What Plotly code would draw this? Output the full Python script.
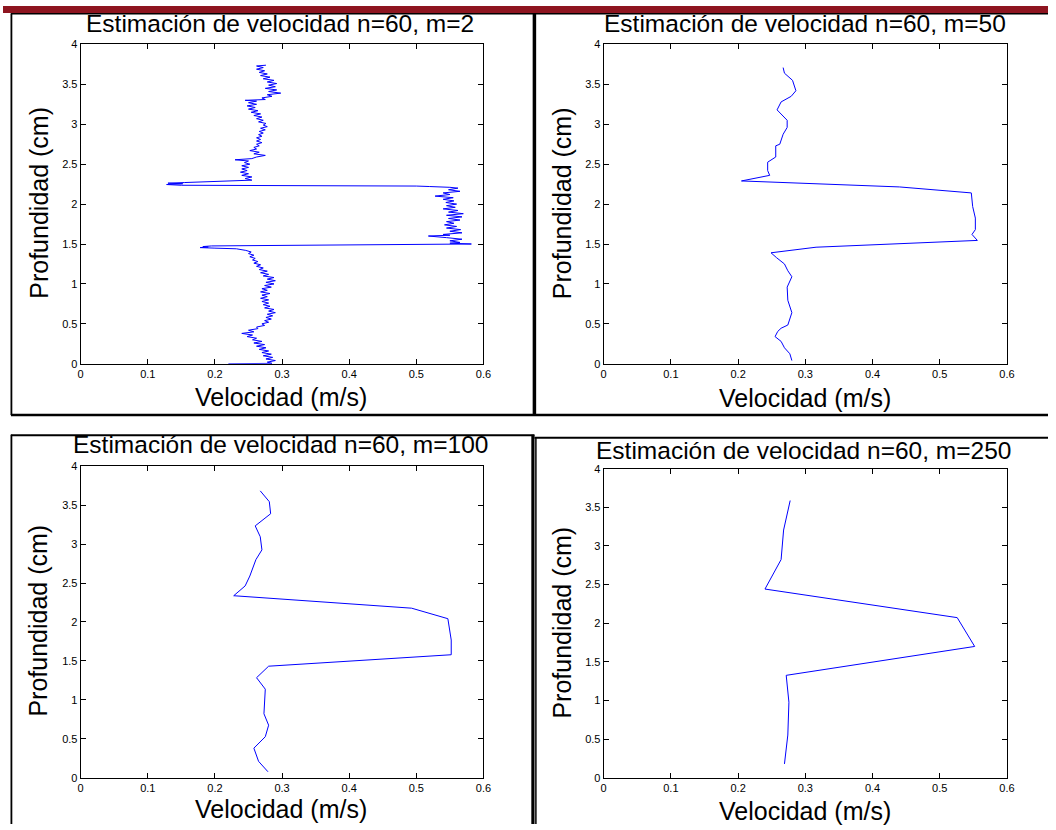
import plotly.graph_objects as go

W, H = 1056, 830

# ---------------- data (depth in cm, velocity in m/s) ----------------
m2_profile = [
    (0.00, 0.220), (0.005, 0.285),
    (0.02, 0.278), (0.04, 0.290), (0.06, 0.276), (0.08, 0.286), (0.10, 0.272),
    (0.12, 0.284), (0.14, 0.270), (0.16, 0.280), (0.18, 0.266), (0.20, 0.276),
    (0.22, 0.262), (0.24, 0.274), (0.26, 0.258), (0.28, 0.270), (0.30, 0.256),
    (0.32, 0.262), (0.34, 0.248), (0.36, 0.256), (0.38, 0.240), (0.40, 0.258),
    (0.42, 0.250), (0.44, 0.264), (0.46, 0.262), (0.48, 0.274), (0.50, 0.270),
    (0.52, 0.280), (0.54, 0.274), (0.56, 0.284), (0.58, 0.276), (0.60, 0.286),
    (0.62, 0.278), (0.64, 0.290), (0.66, 0.280), (0.68, 0.288), (0.70, 0.274),
    (0.72, 0.282), (0.74, 0.272), (0.76, 0.280), (0.78, 0.270), (0.80, 0.280),
    (0.82, 0.268), (0.84, 0.278), (0.86, 0.270), (0.88, 0.282), (0.90, 0.268),
    (0.92, 0.278), (0.94, 0.270), (0.96, 0.284), (0.98, 0.274), (1.00, 0.288),
    (1.02, 0.276), (1.04, 0.290), (1.06, 0.278), (1.08, 0.288), (1.10, 0.272),
    (1.12, 0.280), (1.14, 0.268), (1.16, 0.278), (1.18, 0.266), (1.20, 0.272),
    (1.22, 0.262), (1.24, 0.268), (1.26, 0.258), (1.28, 0.264), (1.30, 0.256),
    (1.32, 0.260), (1.34, 0.252), (1.36, 0.258), (1.38, 0.250), (1.40, 0.254),
    (1.42, 0.246), (1.43, 0.240), (1.44, 0.232), (1.448, 0.200), (1.455, 0.178),
    (1.462, 0.190), (1.468, 0.182), (1.476, 0.195), (1.496, 0.520), (1.50, 0.582),
    (1.51, 0.550), (1.52, 0.565), (1.54, 0.550), (1.56, 0.568), (1.58, 0.545),
    (1.60, 0.518), (1.61, 0.550), (1.62, 0.540), (1.64, 0.568), (1.66, 0.550),
    (1.68, 0.566), (1.70, 0.545), (1.72, 0.560), (1.74, 0.542), (1.76, 0.556),
    (1.78, 0.545), (1.80, 0.565), (1.82, 0.548), (1.84, 0.568), (1.86, 0.545),
    (1.88, 0.570), (1.90, 0.548), (1.92, 0.562), (1.94, 0.540), (1.96, 0.558),
    (1.98, 0.545), (2.00, 0.560), (2.02, 0.544), (2.04, 0.556), (2.06, 0.540),
    (2.08, 0.555), (2.10, 0.528), (2.12, 0.550), (2.14, 0.540), (2.16, 0.565),
    (2.18, 0.548), (2.20, 0.562), (2.21, 0.550), (2.22, 0.520), (2.226, 0.500),
    (2.236, 0.150), (2.245, 0.128), (2.255, 0.152), (2.262, 0.130), (2.27, 0.155),
    (2.285, 0.200), (2.295, 0.240), (2.30, 0.255), (2.32, 0.245), (2.34, 0.255),
    (2.36, 0.240), (2.38, 0.250), (2.40, 0.238), (2.42, 0.248), (2.44, 0.240),
    (2.46, 0.250), (2.48, 0.240), (2.50, 0.252), (2.52, 0.244), (2.54, 0.250),
    (2.555, 0.230), (2.57, 0.255), (2.59, 0.262), (2.61, 0.275), (2.63, 0.258),
    (2.65, 0.266), (2.67, 0.252), (2.69, 0.262), (2.71, 0.258), (2.73, 0.266),
    (2.75, 0.262), (2.77, 0.270), (2.79, 0.262), (2.81, 0.268), (2.83, 0.262),
    (2.85, 0.270), (2.87, 0.265), (2.89, 0.272), (2.91, 0.266), (2.93, 0.275),
    (2.95, 0.268), (2.97, 0.278), (2.99, 0.272), (3.01, 0.276), (3.03, 0.265),
    (3.05, 0.272), (3.07, 0.262), (3.09, 0.270), (3.11, 0.258), (3.13, 0.268),
    (3.15, 0.254), (3.17, 0.264), (3.19, 0.250), (3.21, 0.260), (3.23, 0.248),
    (3.25, 0.262), (3.27, 0.250), (3.29, 0.262), (3.30, 0.245), (3.31, 0.275),
    (3.33, 0.270), (3.35, 0.285), (3.37, 0.278), (3.39, 0.298), (3.41, 0.280),
    (3.43, 0.292), (3.45, 0.275), (3.47, 0.290), (3.49, 0.280), (3.51, 0.292),
    (3.53, 0.278), (3.55, 0.288), (3.57, 0.272), (3.59, 0.282), (3.61, 0.268),
    (3.63, 0.278), (3.65, 0.266), (3.67, 0.274), (3.69, 0.262), (3.71, 0.272),
    (3.73, 0.262), (3.74, 0.276),
]
depth_m2 = [d for d, v in m2_profile]
vel_m2 = [v for d, v in m2_profile]

depth_m50 = [3.71, 3.64, 3.55, 3.42, 3.35, 3.28, 3.18, 3.10, 3.05, 2.96,
             2.875, 2.75, 2.73, 2.59, 2.57, 2.525, 2.42, 2.36, 2.29, 2.215,
             2.14, 1.97, 1.825, 1.68, 1.62, 1.545, 1.46, 1.39, 1.33, 1.25,
             1.165, 1.09, 0.96, 0.795, 0.64, 0.485, 0.445, 0.405, 0.34, 0.28,
             0.20, 0.125, 0.04]
vel_m50 = [0.267, 0.269, 0.281, 0.286, 0.279, 0.264, 0.258, 0.267, 0.273, 0.273,
           0.267, 0.262, 0.256, 0.256, 0.252, 0.244, 0.244, 0.247, 0.205, 0.440,
           0.547, 0.549, 0.553, 0.553, 0.548, 0.556, 0.316, 0.249, 0.257, 0.269,
           0.274, 0.280, 0.273, 0.274, 0.280, 0.274, 0.264, 0.259, 0.255, 0.264,
           0.269, 0.277, 0.280]

depth_m100 = [3.684, 3.545, 3.39, 3.234, 3.095, 2.926, 2.80, 2.695, 2.59, 2.463,
              2.337, 2.177, 2.042, 1.768, 1.579, 1.432, 1.284, 1.137, 0.821, 0.674,
              0.526, 0.379, 0.21, 0.076]
vel_m100 = [0.2675, 0.281, 0.283, 0.260, 0.2675, 0.270, 0.261, 0.257, 0.252, 0.245,
            0.228, 0.493, 0.547, 0.552, 0.552, 0.280, 0.262, 0.275, 0.273, 0.280,
            0.275, 0.258, 0.265, 0.279]

depth_m250 = [3.588, 3.206, 2.824, 2.442, 2.072, 1.699, 1.325, 0.977, 0.552, 0.178]
vel_m250 = [0.2775, 0.2677, 0.264, 0.240, 0.526, 0.552, 0.2716, 0.2756, 0.274, 0.269]

titles = ["Estimación de velocidad n=60, m=2",
          "Estimación de velocidad n=60, m=50",
          "Estimación de velocidad n=60, m=100",
          "Estimación de velocidad n=60, m=250"]
x_ticks = [0, 0.1, 0.2, 0.3, 0.4, 0.5, 0.6]
x_ticklabels = ["0", "0.1", "0.2", "0.3", "0.4", "0.5", "0.6"]
y_ticks = [0, 0.5, 1, 1.5, 2, 2.5, 3, 3.5, 4]
y_ticklabels = ["0", "0.5", "1", "1.5", "2", "2.5", "3", "3.5", "4"]
x_title = "Velocidad (m/s)"
y_title = "Profundidad (cm)"

# ---------------- layout helpers ----------------
FONT = "Liberation Sans, Arial, sans-serif"


def px(x):
    return x / W


def py(y):
    return 1 - y / H


# plot areas in pixels: (left, right, top, bottom)
areas = [(78.5, 485.5, 39, 363), (607, 1014.5, 39, 363),
         (78.5, 485.5, 467, 783), (607, 1014.5, 469.5, 783)]
series = [(vel_m2, depth_m2), (vel_m50, depth_m50),
          (vel_m100, depth_m100), (vel_m250, depth_m250)]
title_pos = [(280, 18), (810, 18), (280, 445), (809, 451)]
xtitle_pos = [(280.5, 397), (810, 398), (280.5, 815), (810, 816.5)]
ytitle_pos = [(36, 200), (565, 200), (35.5, 623.5), (565, 625.5)]

fig = go.Figure()
layout = dict(width=W, height=H, margin=dict(l=0, r=0, t=0, b=0),
              paper_bgcolor="white", plot_bgcolor="white", showlegend=False,
              font=dict(family=FONT, color="black"))
annotations = []
for i, ((l, r, t, b), (xv, yv)) in enumerate(zip(areas, series)):
    n = "" if i == 0 else str(i + 1)
    fig.add_trace(go.Scatter(x=xv, y=yv, mode="lines",
                             line=dict(color="#0000FF", width=1),
                             xaxis="x" + n, yaxis="y" + n, hoverinfo="skip"))
    common = dict(ticks="inside", ticklen=5, tickwidth=1, tickcolor="black",
                  mirror="ticks", showline=True, linecolor="black", linewidth=1,
                  showgrid=False, zeroline=False, fixedrange=True,
                  tickfont=dict(family=FONT, size=11, color="black"))
    layout["xaxis" + n] = dict(domain=[px(l), px(r)], anchor="y" + n,
                               range=[0, 0.6], tickmode="array",
                               tickvals=x_ticks, ticktext=x_ticklabels, **common)
    layout["yaxis" + n] = dict(domain=[py(b), py(t)], anchor="x" + n,
                               range=[0, 4], tickmode="array",
                               tickvals=y_ticks, ticktext=y_ticklabels, **common)
    tx, ty = title_pos[i]
    annotations.append(dict(text=titles[i], x=px(tx), y=py(ty), xref="paper",
                            yref="paper", showarrow=False, xanchor="center",
                            yanchor="middle", font=dict(size=24.5, family=FONT)))
    ax_, ay_ = xtitle_pos[i]
    annotations.append(dict(text=x_title, x=px(ax_), y=py(ay_), xref="paper",
                            yref="paper", showarrow=False, xanchor="center",
                            yanchor="middle", font=dict(size=25, family=FONT)))
    yx, yy = ytitle_pos[i]
    annotations.append(dict(text=y_title, x=px(yx), y=py(yy), xref="paper",
                            yref="paper", showarrow=False, xanchor="center",
                            yanchor="middle", textangle=-90,
                            font=dict(size=25, family=FONT)))
layout["annotations"] = annotations


def hline(x0, x1, y, w):
    return dict(type="line", xref="paper", yref="paper", x0=px(x0), x1=px(x1),
                y0=py(y), y1=py(y), line=dict(color="black", width=w))


def vline(x, y0, y1, w):
    return dict(type="line", xref="paper", yref="paper", x0=px(x), x1=px(x),
                y0=py(y0), y1=py(y1), line=dict(color="black", width=w))


shapes = [
    dict(type="rect", xref="paper", yref="paper", x0=0, x1=1, y0=py(7), y1=1,
         fillcolor="#8E1520", line=dict(width=0)),
    hline(8, 1056, 7.8, 1.6),
    vline(8.5, 7.5, 415, 1.8),
    vline(537, 7.5, 415, 3.5),
    hline(8, 1056, 415, 2.4),
    hline(8, 537, 435.5, 2),
    vline(8.5, 435, 830, 1.8),
    vline(535.5, 435, 830, 3.2),
    hline(537, 1056, 438, 2),
    vline(538.5, 438, 830, 1.5),
]
layout["shapes"] = shapes
fig.update_layout(**layout)
fig.write_html("out.html")
